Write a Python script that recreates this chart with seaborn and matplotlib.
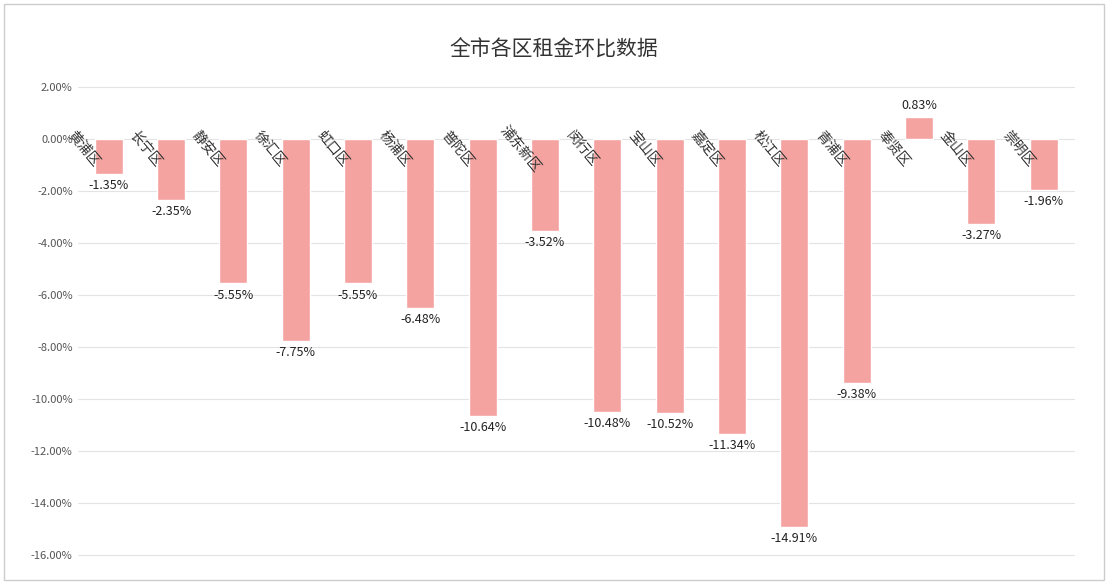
import matplotlib.pyplot as plt
import matplotlib.ticker as mticker
import pandas as pd
import seaborn as sns

districts = ["黄浦区", "长宁区", "静安区", "徐汇区", "虹口区", "杨浦区", "普陀区", "浦东新区",
             "闵行区", "宝山区", "嘉定区", "松江区", "青浦区", "奉贤区", "金山区", "崇明区"]
changes = [-1.35, -2.35, -5.55, -7.75, -5.55, -6.48, -10.64, -3.52,
           -10.48, -10.52, -11.34, -14.91, -9.38, 0.83, -3.27, -1.96]
y_ticks = [2, 0, -2, -4, -6, -8, -10, -12, -14, -16]

sns.set_style("white")
plt.rcParams["font.family"] = ["Noto Sans CJK SC", "DejaVu Sans"]

df = pd.DataFrame({"district": districts, "change": changes})

fig = plt.figure(figsize=(11.08, 5.84), dpi=100)
ax = fig.add_axes([0.07, 0.04, 0.9, 0.82])
sns.barplot(data=df, x="district", y="change", color="#F5A3A0", width=0.45,
            saturation=1, ax=ax, zorder=3)

ax.set_ylim(-16.2, 2.2)
ax.set_yticks(y_ticks)
ax.yaxis.set_major_formatter(mticker.FuncFormatter(lambda v, _: f"{v:.2f}%"))
ax.tick_params(axis="y", labelsize=8, colors="#555555", length=0)
ax.set_xticks([])
ax.set_xlabel("")
ax.set_ylabel("")
ax.grid(axis="y", color="#E3E3E3", lw=0.8, zorder=0)
for s in ax.spines.values():
    s.set_visible(False)

for i, (name, v) in enumerate(zip(districts, changes)):
    ax.text(i - 0.32, -0.2, name, rotation=-50, ha="center", va="top",
            fontsize=10, color="#333333", rotation_mode="anchor", zorder=4)
    if v < 0:
        ax.text(i, v - 0.2, f"{v:.2f}%", ha="center", va="top", fontsize=9,
                color="#222222")
    else:
        ax.text(i, v + 0.2, f"{v:.2f}%", ha="center", va="bottom", fontsize=9,
                color="#222222")

fig.text(0.5, 0.915, "全市各区租金环比数据", ha="center", va="center",
         fontsize=15, color="#333333")
fig.patches.append(plt.Rectangle((0.004, 0.006), 0.992, 0.988, transform=fig.transFigure,
                                 fill=False, ec="#CCCCCC", lw=1))

fig.savefig("out.png", dpi=100)
